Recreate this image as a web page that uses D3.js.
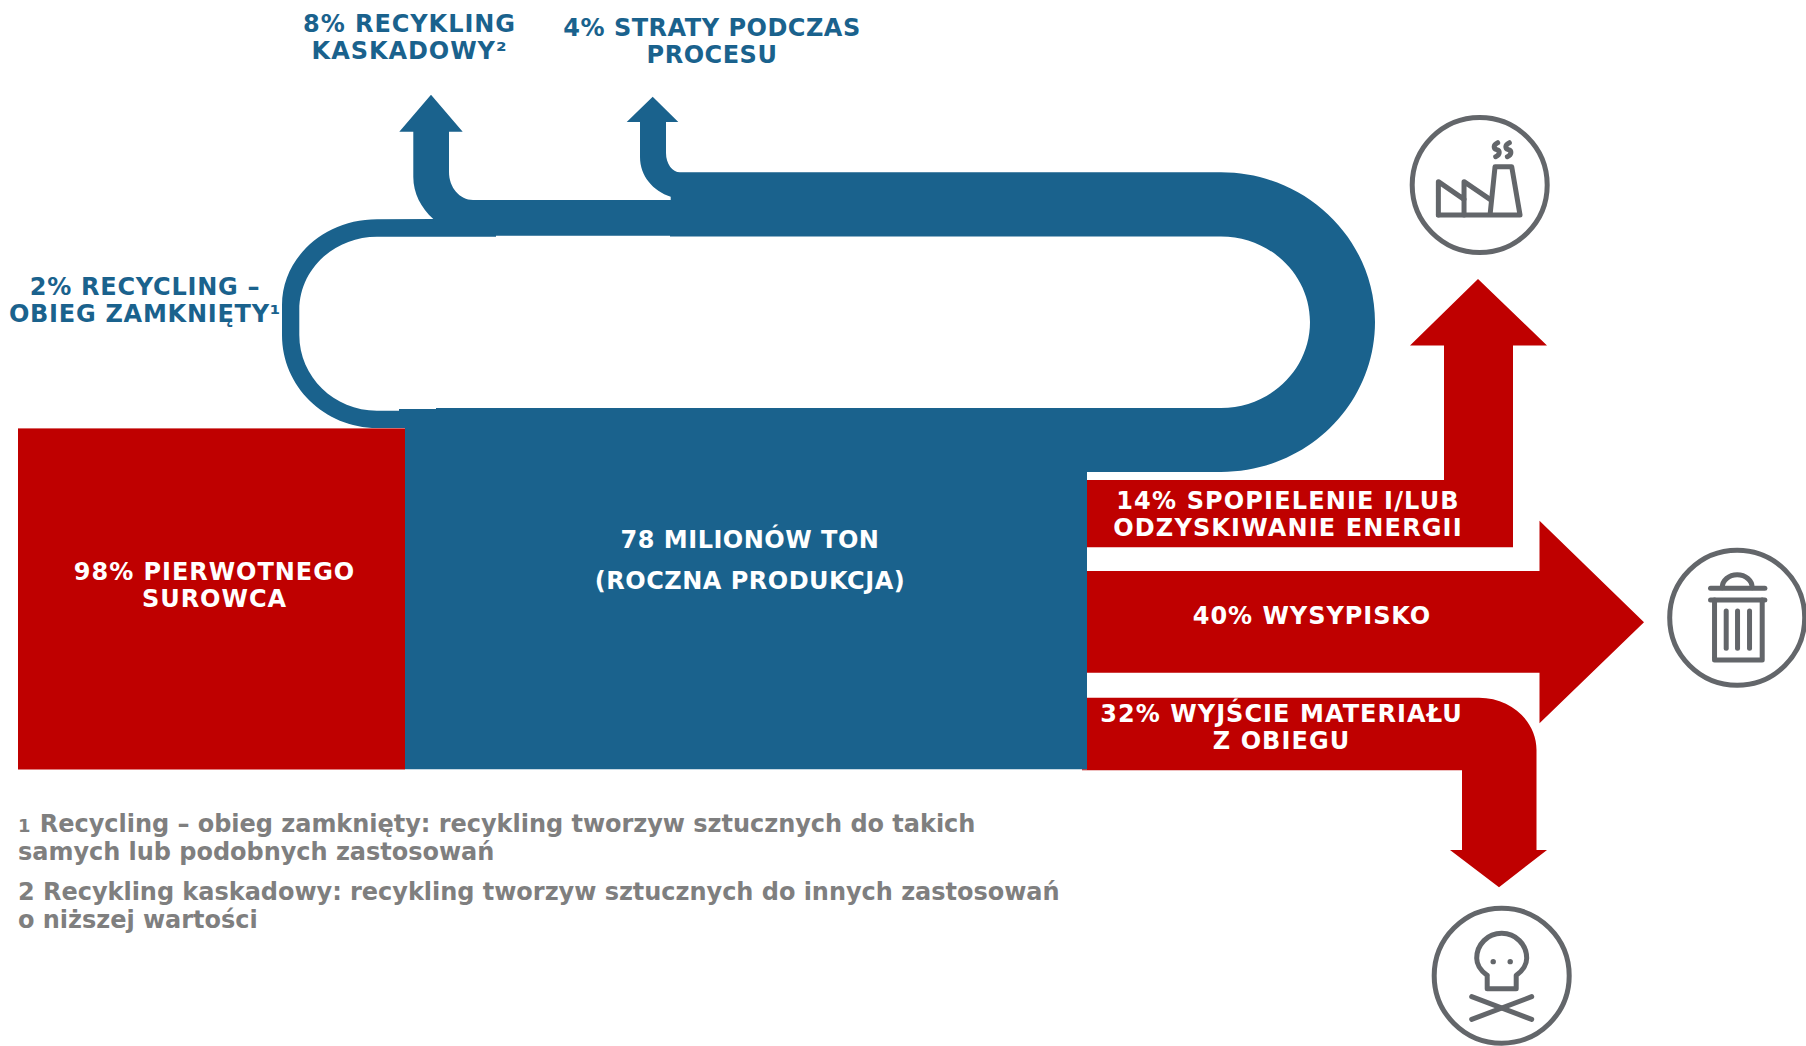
<!DOCTYPE html>
<html lang="pl">
<head>
<meta charset="utf-8">
<title>Obieg tworzyw sztucznych</title>
<script src="https://cdn.jsdelivr.net/npm/d3@7"></script>
<style>
  html, body { margin: 0; padding: 0; background: #fff; }
  svg { display: block; }
  text { font-family: "DejaVu Sans", Verdana, sans-serif; font-weight: 700; }
</style>
</head>
<body>
<svg id="chart" width="1806" height="1046"></svg>
<script>
// Flow shares, in percent of the yearly production
const loopShares = [2, 8, 4];
const loopNames = [["RECYCLING –", "OBIEG ZAMKNIĘTY¹"], ["RECYKLING", "KASKADOWY²"], ["STRATY PODCZAS", "PROCESU"]];
const sourceShare = [98];
const sourceName = [["PIERWOTNEGO", "SUROWCA"]];
const productionLines = ["78 MILIONÓW TON", "(ROCZNA PRODUKCJA)"];
const exitShares = [14, 40, 32];
const exitNames = [["SPOPIELENIE I/LUB", "ODZYSKIWANIE ENERGII"], ["WYSYPISKO"], ["WYJŚCIE MATERIAŁU", "Z OBIEGU"]];
const footnotes = [
  ["1", "Recycling – obieg zamknięty: recykling tworzyw sztucznych do takich", "samych lub podobnych zastosowań"],
  ["2", "Recykling kaskadowy: recykling tworzyw sztucznych do innych zastosowań", "o niższej wartości"]
];

const BLUE = "#1a628d", RED = "#bf0000", GREY = "#7f7f7f", ICON = "#63666a";
const svg = d3.select("#chart");

// Quarter-ellipse corner from the pen position (x0,y0) to (x1,y1); the first leg runs
// horizontally when startsFlat is set, vertically otherwise.
function corner(p, x0, y0, x1, y1, startsFlat) {
  const k = 0.5523;
  if (startsFlat) p.bezierCurveTo(x0 + (x1 - x0) * k, y0, x1, y1 - (y1 - y0) * k, x1, y1);
  else p.bezierCurveTo(x0, y0 + (y1 - y0) * k, x1 - (x1 - x0) * k, y1, x1, y1);
}
function poly(p, pts) { pts.forEach(([x, y]) => p.lineTo(x, y)); }

// Production block, return loop and the two upward branches, as one outline with a hole
function bluePath() {
  const p = d3.path();
  p.moveTo(405, 769.3);
  poly(p, [[1087, 769.3], [1087, 472], [1221, 472]]);
  corner(p, 1221, 472, 1375, 322, true);
  corner(p, 1375, 322, 1221, 172.3, false);
  p.lineTo(680, 172.3);
  corner(p, 680, 172.3, 666, 153, true);
  poly(p, [[666, 122], [678.3, 122], [652.7, 96.7], [626.7, 122], [640, 122], [640, 157]]);
  p.bezierCurveTo(640, 176, 653, 191, 670.7, 196.7);   // branch leaves the band at an angle
  poly(p, [[670.7, 200], [473, 200]]);
  corner(p, 473, 200, 449, 172, true);
  poly(p, [[449, 131.7], [462.7, 131.7], [431, 94.7], [399.3, 131.7], [413.3, 131.7], [413.3, 177]]);
  p.bezierCurveTo(413.3, 193, 421, 208, 433.3, 219);
  p.lineTo(377, 219.3);
  corner(p, 377, 219.3, 282, 305, true);
  p.lineTo(282, 335);
  corner(p, 282, 335, 377, 428, false);
  p.lineTo(405, 428);
  p.closePath();

  p.moveTo(377, 236.7);
  corner(p, 377, 236.7, 299.3, 310, true);
  p.lineTo(299.3, 335);
  corner(p, 299.3, 335, 377, 410.7, false);
  poly(p, [[399, 410.7], [399, 409], [436, 409], [436, 408], [1221, 408]]);
  corner(p, 1221, 408, 1310, 322, true);
  corner(p, 1310, 322, 1221, 236.5, false);
  poly(p, [[670, 236.5], [670, 235.7], [496, 235.7], [496, 236.7]]);
  p.closePath();
  return p.toString();
}

const exitPaths = [
  () => { // turns up towards the incinerator
    const p = d3.path();
    p.moveTo(1087, 480);
    poly(p, [[1444, 480], [1444, 345.5], [1410, 345.5], [1478, 279], [1547, 345.5], [1513, 345.5], [1513, 547.3], [1087, 547.3]]);
    p.closePath();
    return p.toString();
  },
  () => { // straight on to landfill
    const p = d3.path();
    p.moveTo(1085.6, 571);
    poly(p, [[1539.5, 571], [1539.5, 520.7], [1644, 622.3], [1539.5, 723.3], [1539.5, 672.7], [1085.6, 672.7]]);
    p.closePath();
    return p.toString();
  },
  () => { // bends down and out of the system
    const p = d3.path();
    p.moveTo(1087, 697.7);
    p.lineTo(1479, 697.7);
    corner(p, 1479, 697.7, 1536.5, 750, true);
    poly(p, [[1536.5, 850], [1547, 850], [1499, 887.3], [1450, 850], [1462, 850], [1462, 770.3], [1082, 770.3], [1082, 769.3], [1087, 769.3]]);
    p.closePath();
    return p.toString();
  }
];

// Virgin feedstock block
svg.selectAll("rect.source").data(sourceShare).join("rect")
  .attr("class", "source")
  .attr("x", 18).attr("y", 428.4).attr("width", 387).attr("height", 341.1)
  .attr("fill", RED);

svg.selectAll("path.exit").data(exitShares).join("path")
  .attr("class", "exit")
  .attr("d", (d, i) => exitPaths[i]())
  .attr("fill", RED);

svg.append("path").attr("class", "loop")
  .attr("d", bluePath())
  .attr("fill", BLUE)
  .attr("fill-rule", "evenodd");

// Centred multi-line label block
const LABEL_SIZE = 24, TRACKING = 0.95;
function labelBlock(lines, cx, y, step, colour, tracking = TRACKING) {
  svg.append("g").selectAll("text").data(lines).join("text")
    .attr("x", cx)
    .attr("y", (d, i) => y + i * step)
    .attr("text-anchor", "middle")
    .attr("fill", colour)
    .attr("font-size", LABEL_SIZE)
    .attr("letter-spacing", tracking)
    .text(d => d);
}
const withShare = (share, lines) => lines.map((l, i) => i === 0 ? `${share}% ${l}` : l);

labelBlock(withShare(loopShares[0], loopNames[0]), 145, 295, 27, BLUE, 0.75);
labelBlock(withShare(loopShares[1], loopNames[1]), 409.5, 32, 27, BLUE);
labelBlock(withShare(loopShares[2], loopNames[2]), 712, 36, 27, BLUE, 0.5);
labelBlock(withShare(sourceShare[0], sourceName[0]), 214.5, 580, 27.3, "#fff");
labelBlock(productionLines, 750, 548, 41, "#fff", 0.5);
labelBlock(withShare(exitShares[0], exitNames[0]), 1288, 508.7, 27.3, "#fff", 1.15);
labelBlock(withShare(exitShares[1], exitNames[1]), 1312, 624, 27, "#fff");
labelBlock(withShare(exitShares[2], exitNames[2]), 1281.5, 721.7, 27.3, "#fff", 1.05);

// Footnotes under the diagram
const noteBaselines = [[832.4, 860.4], [900.4, 928]];
footnotes.forEach(([mark, first, second], i) => {
  const t = svg.append("text").attr("x", 18).attr("y", noteBaselines[i][0]).attr("fill", GREY).attr("font-size", 24).attr("letter-spacing", -0.03);
  t.append("tspan").attr("font-size", i === 0 ? 18 : 24).text(mark);
  t.append("tspan").attr("dx", i === 0 ? 1 : 0).text(" " + first);
  svg.append("text").attr("x", 18).attr("y", noteBaselines[i][1]).attr("fill", GREY).attr("font-size", 24).attr("letter-spacing", -0.03).text(second);
});

// Outcome pictograms
function icon(cx, cy, draw) {
  const g = svg.append("g").attr("transform", `translate(${cx},${cy})`)
    .attr("fill", "none").attr("stroke", ICON).attr("stroke-width", 5)
    .attr("stroke-linecap", "round").attr("stroke-linejoin", "round");
  g.append("circle").attr("r", 67.5);
  draw(g);
}
const line = d3.line();
const zoomed = (pts, ox, oy) => pts.map(([x, y]) => [(x - ox) / 3, (y - oy) / 3]);

icon(1479.7, 185, g => {
  const o = [299, 285];
  const shapes = [
    [[175, 375], [175, 275], [252, 328], [252, 275], [330, 328]],
    [[175, 375], [420, 375], [395, 230], [345, 230], [330, 375]],
    [[252, 328], [252, 375]]
  ];
  shapes.forEach(s => g.append("path").attr("d", line(zoomed(s, ...o))));
  [350, 385].forEach(x => {
    const c = d3.path();
    const ax = (x - o[0]) / 3, top = (158 - o[1]) / 3, bot = (200 - o[1]) / 3, mid = (top + bot) / 2;
    c.moveTo(ax + 1, top);
    c.bezierCurveTo(ax - 3.5, top + 2, ax - 3.5, mid - 1, ax, mid);
    c.bezierCurveTo(ax + 3.5, mid + 1, ax + 3.5, bot - 2, ax - 1, bot);
    g.append("path").attr("d", c.toString());
  });
});

icon(1737.2, 617.7, g => {
  const o = [290, 263];
  const shapes = [
    [[210, 175], [373, 175]],
    [[210, 210], [373, 210]],
    [[222, 210], [222, 390], [365, 390], [365, 210]],
    [[257, 243], [257, 355]],
    [[291, 243], [291, 355]],
    [[327, 243], [327, 355]]
  ];
  shapes.forEach(s => g.append("path").attr("d", line(zoomed(s, ...o))));
  g.append("path").attr("d", "M-15,-30 A15,13 0 0 1 15,-30");
});

icon(1501.7, 975.7, g => {
  const o = [305, 407];
  const shapes = [
    [[215, 470], [395, 538]],
    [[395, 470], [215, 538]]
  ];
  shapes.forEach(s => g.append("path").attr("d", line(zoomed(s, ...o))));
  const [sx, sy] = zoomed([[305, 355]], ...o)[0];
  const skull = d3.path();
  skull.moveTo(sx - 14.5, sy + 17);
  skull.lineTo(sx - 14.5, sy + 30.5);
  skull.lineTo(sx + 14.5, sy + 30.5);
  skull.lineTo(sx + 14.5, sy + 17);
  skull.bezierCurveTo(sx + 22, sy + 12, sx + 25, sy + 5, sx + 25, sy);
  skull.bezierCurveTo(sx + 25, sy - 14, sx + 14, sy - 25, sx, sy - 25);
  skull.bezierCurveTo(sx - 14, sy - 25, sx - 25, sy - 14, sx - 25, sy);
  skull.bezierCurveTo(sx - 25, sy + 5, sx - 22, sy + 12, sx - 14.5, sy + 17);
  g.append("path").attr("d", skull.toString());
  [-8.5, 8.5].forEach(dx => g.append("circle")
    .attr("cx", sx + dx).attr("cy", sy + 3.3).attr("r", 2.7)
    .attr("fill", ICON).attr("stroke", "none"));
});
</script>
</body>
</html>
